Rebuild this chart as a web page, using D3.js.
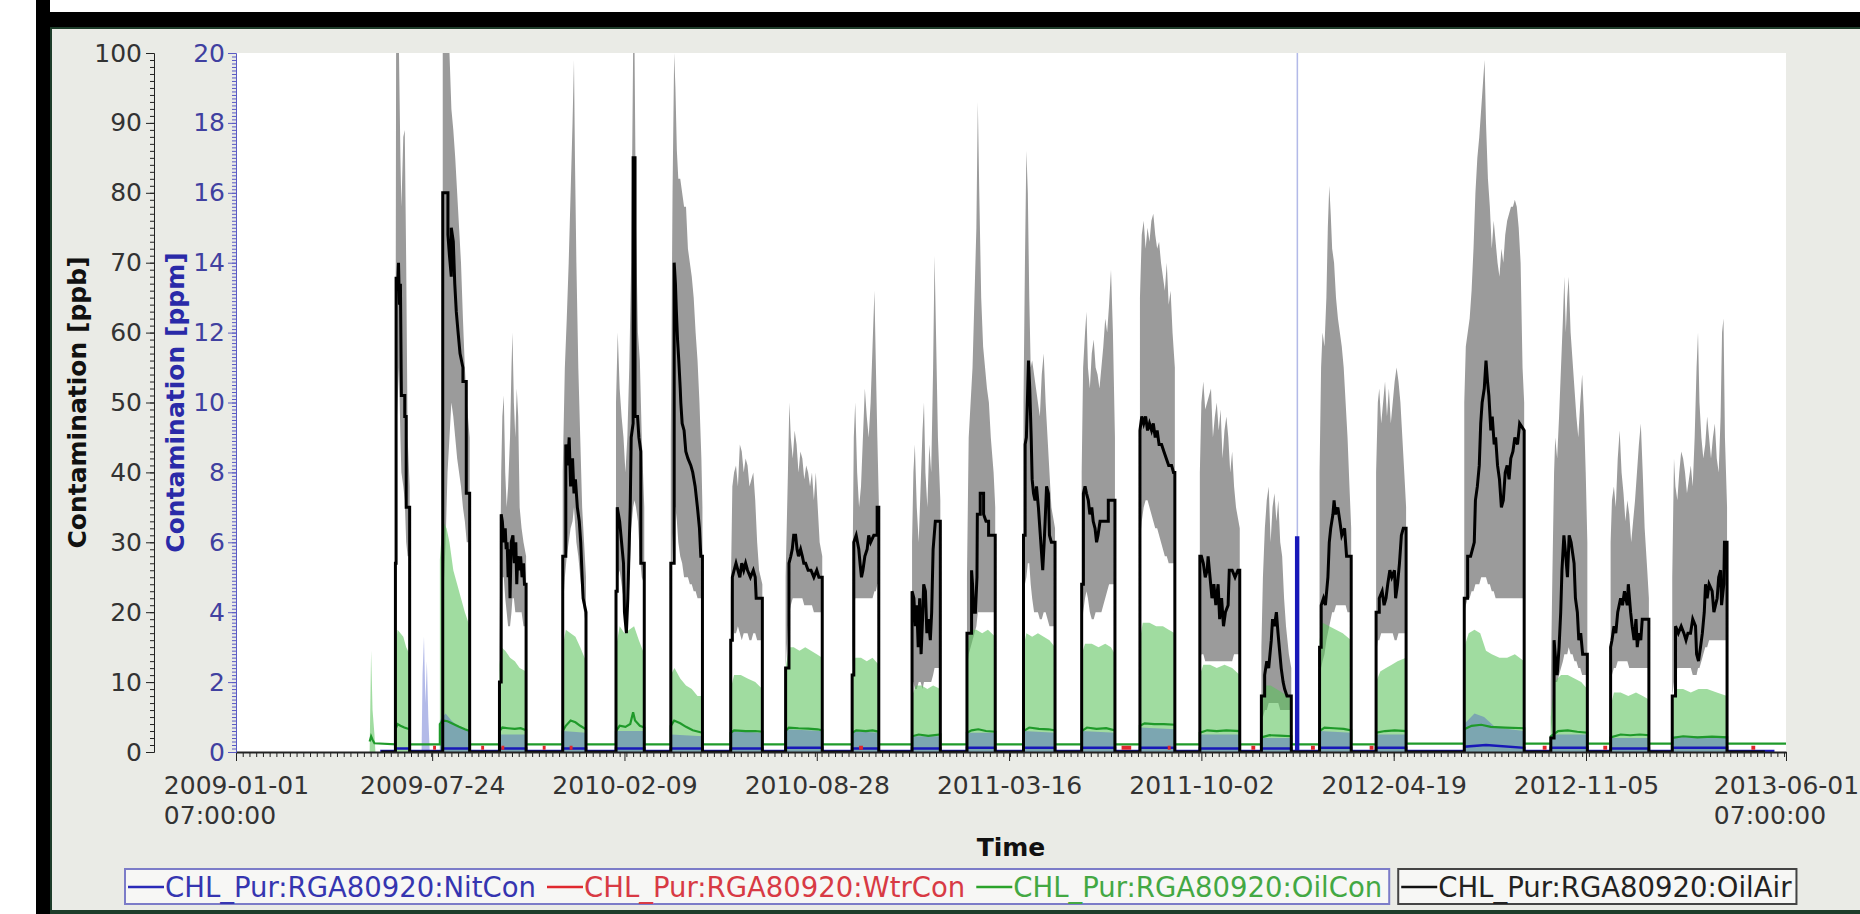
<!DOCTYPE html>
<html>
<head>
<meta charset="utf-8">
<script src="https://cdn.jsdelivr.net/npm/d3@7"></script>
<style>
  body { margin: 0; background: #fff; }
  text { font-family: "DejaVu Sans", sans-serif; }
</style>
</head>
<body>
<svg id="chart" width="1860" height="914"></svg>
<script>
// time is kept as days after the first tick (2009-01-01 07:00 UTC)
const startTime = Date.UTC(2009, 0, 1, 7);
const endTime = Date.UTC(2013, 5, 1, 7);

const xTickLabels = ['2009-01-01', '2009-07-24', '2010-02-09', '2010-08-28', '2011-03-16',
  '2011-10-02', '2012-04-19', '2012-11-05', '2013-06-01'];
const ppbTicks = [0, 10, 20, 30, 40, 50, 60, 70, 80, 90, 100];
const ppmTicks = [0, 2, 4, 6, 8, 10, 12, 14, 16, 18, 20];
const seriesNames = ['CHL_Pur:RGA80920:NitCon', 'CHL_Pur:RGA80920:WtrCon',
  'CHL_Pur:RGA80920:OilCon', 'CHL_Pur:RGA80920:OilAir'];

// OilAir average [day, ppb]
const oilAir = [
  [151,0],[165.8,0],[165.8,27],[166.5,27],[166.5,68],[168,66],[169,70],[170,64],[171,67],[172,51],[175.5,51],[175.5,48],[177,48],[177,35],[180.6,35],[180.6,0],
  [215,0],[215,80],[220.4,80],[220.4,74],[222,71],[223.9,68],[223.9,75],[226,73],[227.5,67],[229.1,63],[231,60],[233,57],[236,55],[236,53],[239.5,53],[239.5,37],[243,37],[243,0],
  [274,0],[274,10],[275.8,10],[275.8,34],[277,33],[278.5,30],[280,32],[281,29],[282,30],[283,25],[284,29],[285,22],[286.2,30],[288,31],[289.5,27],[291,30],[292,24],[293,28],[294.8,26],[296,28],[297.5,25],[299,27],[300,24],[301.7,24],[301.7,0],
  [339.8,0],[339.8,28],[343,28],[343,44],[345,41],[346.5,45],[348,38],[350,42],[351.5,37],[353,39],[355,35],[357,33],[358.5,30],[360,25],[361,22],[364,20],[364,0],
  [395.2,0],[395.2,23],[396.5,23],[396.5,35],[399,33],[401,30],[403,27],[404,20],[406,17],[407.5,22],[409,30],[410,35],[411,45],[413,47],[413,85],[415,85],[415,48],[417.6,48],[419,45],[421,43],[421,27],[424.6,27],[424.6,0],
  [452.2,0],[452.2,27],[455.7,27],[455.7,70],[457,67],[458,63],[459.2,59],[460.5,56],[462,52],[462.6,50],[464,47],[466,46],[467.8,43],[470,42],[473,41],[475,40],[477.5,38],[479.9,35],[482,32],[483.4,28],[485.1,28],[485.1,0],
  [514.5,0],[514.5,16],[516.2,16],[516.2,25],[518,26],[520,27],[522,26],[524,25],[526,27],[528,26],[530,27],[532,26],[535,25],[538,26],[540,25],[541,22],[547.4,22],[547.4,0],
  [571.6,0],[571.6,12],[575.1,12],[575.1,27],[577,28],[578.5,29],[580,31],[582,31],[583.5,29],[585,28],[587.2,29],[589,28],[590.5,27],[592.4,27],[595,26],[598,26],[601,25],[604,26],[606.2,25],[609.7,25],[609.7,0],
  [640.8,0],[640.8,11],[642.5,11],[642.5,30],[645,31],[647.7,29],[649,27],[650.5,25],[652,26],[654,28],[656.4,29],[658,31],[660,30],[663.3,31],[666.8,31],[666.8,35],[668.5,35],[668.5,0],
  [703.1,0],[703.1,23],[705,22],[706.5,18],[708,21],[709.5,15],[711,22],[712.5,14],[714,19],[715.2,24],[717,23],[718.5,17],[720,19],[722.1,16],[723.5,20],[725,29],[727.3,33],[730,33],[732.5,33],[732.5,0],
  [760.2,0],[760.2,17],[765,17],[765,26],[766,24],[767.1,20],[769,20],[770.6,25],[771,34],[774,34],[774,37],[777.5,37],[777.5,34],[780,33],[782.7,33],[782.7,31],[789.6,31],[789.6,0],
  [819,0],[819,31],[820.7,31],[820.7,44],[822,45],[823,50],[824.2,56],[825.5,52],[827,45],[828,39],[829.4,37],[831,36],[832.5,38],[834.5,35],[836,32],[837.5,29],[839,26],[840.5,30],[841.5,33],[843,38],[844.9,37],[846,31],[848,30],[851.8,30],[851.8,0],
  [879.5,0],[879.5,24],[881.3,24],[881.3,37],[883,38],[884.5,37],[886.4,36],[888,34],[890,35],[891.5,33],[893.4,32],[895,30],[896.5,31],[898.6,33],[904,33],[907.2,33],[907.2,36],[914.1,36],[914.1,0],
  [940.1,0],[940.1,46],[942,48],[944,47],[946,48],[948,46],[950,47],[952.2,46],[954,47],[956,45],[958,46],[960,44],[962.6,44],[965,43],[967.5,42],[970,41],[973,41],[975,40],[976.4,40],[976.4,0],
  [1002.4,0],[1002.4,28],[1004,28],[1006,27],[1008,25],[1010,26],[1011,28],[1013,25],[1015,22],[1017,24],[1019,21],[1021.4,24],[1023,19],[1025,22],[1027,18],[1029,20],[1031.8,21],[1033,26],[1036,26],[1039,25],[1042,26],[1043.9,26],[1043.9,0],
  [1066.4,0],[1066.4,8],[1069.8,8],[1069.8,11],[1072,13],[1074,12],[1076.7,16],[1078,19],[1080,18],[1082,20],[1083.7,17],[1085,15],[1087,12],[1089,10],[1090.6,9],[1093,8],[1097.5,8],[1097.5,0],
  [1126.9,0],[1126.9,15],[1128.6,15],[1128.6,21],[1131,22],[1133,21],[1135.6,25],[1137,30],[1138.5,32],[1140.8,34],[1142,36],[1143.5,34],[1145.9,35],[1148,33],[1150,31],[1152.9,32],[1155,28],[1159.8,28],[1159.8,0],
  [1185.7,0],[1185.7,20],[1189,20],[1189,22],[1192,23],[1194,21],[1196,22],[1197.8,24],[1200,26],[1202,25],[1204.8,26],[1206,22],[1208,24],[1210,27],[1212,31],[1214,32],[1216.9,32],[1216.9,0],
  [1277.4,0],[1277.4,22],[1280.9,22],[1280.9,28],[1284,28],[1287.8,30],[1289,36],[1291,38],[1293,41],[1294.5,47],[1296,50],[1298.2,52],[1300,56],[1301.6,53],[1303,51],[1305,46],[1306.5,48],[1308.5,44],[1310,45],[1312,41],[1314,39],[1316,35],[1318,36],[1320,40],[1322,41],[1324,39],[1325.8,42],[1328,43],[1330,45],[1332.8,44],[1335,47],[1339.7,46],[1339.7,0],
  [1367.4,0],[1367.4,2],[1370.8,2],[1370.8,16],[1372.5,13],[1374,11],[1376,15],[1377.7,20],[1379,26],[1381,31],[1383,28],[1384.7,25],[1386.5,31],[1388.5,30],[1391.6,27],[1393,22],[1395,20],[1396.5,16],[1398.5,17],[1400.5,14],[1405.4,14],[1405.4,0],
  [1429.6,0],[1429.6,15],[1431,16],[1433.1,18],[1435,17],[1437,20],[1440,22],[1442,21],[1444,23],[1446.9,21],[1448,24],[1450.4,20],[1452,18],[1454,16],[1456,19],[1457.3,15],[1459,17],[1461,16],[1462.5,19],[1469.4,19],[1469.4,0],
  [1493.7,0],[1493.7,8],[1497.1,8],[1497.1,18],[1500,17],[1503,18],[1505.8,17],[1508,16],[1510,17],[1512.7,17],[1515,19],[1517.9,18],[1519,14],[1521,13],[1523.1,15],[1525,17],[1527,20],[1528.3,24],[1530,22],[1532,24],[1535.2,23],[1537,20],[1540.4,22],[1542,25],[1544,26],[1545,21],[1547.3,24],[1548,30],[1550.7,30],[1550.7,0],
  [1590,0]
];

// OilAir min / max envelope [day, low, high] in ppb
const oilAirBand = [
  [165.8,0,0],[165.8,27,40],[166.5,45,100],[168,50,100],[169.5,55,100],[171,45,85],[172,40,78],[174,38,88],[175.5,36,89],[177,30,70],[178.5,28,45],[180.6,28,38],[180.6,0,0],
  [215,0,0],[215,20,100],[218,30,100],[220,40,100],[222,45,100],[224,50,92],[226,48,89],[228,45,85],[230,42,80],[232,40,75],[234,38,70],[236,35,62],[238,33,55],[240,30,50],[243,30,45],[243,0,0],
  [274,0,0],[274,8,15],[275.8,20,40],[277,25,48],[278.5,25,51],[280,22,40],[281.5,20,35],[283,18,38],[285,18,45],[286.5,20,55],[287.5,22,60],[289,22,50],[290.5,20,45],[292,20,52],[293.5,20,48],[295,20,35],[297,20,32],[299,18,30],[301.7,18,28],[301.7,0,0],
  [339.8,0,0],[339.8,20,40],[342,25,55],[344,28,62],[346,30,70],[348,32,80],[350,33,90],[351.5,35,99],[352.5,33,85],[354,30,70],[356,28,55],[358,25,45],[360,22,35],[362,20,30],[364,18,25],[364,0,0],
  [395.2,0,0],[395.2,20,50],[397,25,60],[399,26,52],[401,24,48],[403,22,45],[405,18,40],[407,18,45],[409,24,55],[411,32,70],[413,35,100],[414.5,36,100],[416,35,75],[418,33,60],[420,28,56],[422,25,45],[424.6,24,35],[424.6,0,0],
  [452.2,0,0],[452.2,22,45],[454,30,80],[455.7,35,100],[457,35,95],[458.5,33,86],[460,30,82],[462,28,82],[464,27,80],[466,25,78],[468,25,78],[470,25,72],[472,24,70],[474,24,68],[476,23,65],[478,23,60],[480,22,56],[482,22,50],[484,22,42],[485.1,22,35],[485.1,0,0],
  [514.5,0,0],[514.5,14,22],[516.2,18,38],[518,17,40],[520,17,41],[522,18,38],[524,17,44],[526,16,43],[528,17,40],[530,17,42],[532,17,41],[534,16,38],[536,16,39],[538,17,40],[540,17,36],[542,16,30],[544,16,26],[547.4,16,24],[547.4,0,0],
  [571.6,0,0],[571.6,12,25],[574,18,40],[575.5,20,50],[577,21,45],[579,22,42],[581,22,46],[583,22,44],[585,22,40],[587,22,43],[589,22,42],[591,21,39],[593,21,41],[595,21,40],[597,21,38],[599,21,40],[601,20,36],[603,20,40],[605,20,35],[607,20,30],[609.7,20,28],[609.7,0,0],
  [640.8,0,0],[640.8,10,20],[642.5,20,45],[644,22,50],[646,22,40],[648,22,35],[650,22,38],[652,22,45],[654,22,52],[656,22,48],[658,22,45],[660,22,50],[662,22,58],[664,23,66],[665.5,23,55],[667,24,45],[668.5,24,36],[668.5,0,0],
  [703.1,0,0],[703.1,10,30],[704.5,10,40],[706,9,44],[708,9,35],[710,10,30],[712,10,38],[714,9,46],[715.5,10,50],[717,10,40],[719,10,35],[721,10,44],[723,10,40],[725,11,55],[726.5,12,71],[728,12,60],[730,12,45],[732.5,12,36],[732.5,0,0],
  [760.2,0,0],[760.2,12,25],[762,14,45],[764,15,50],[766,16,55],[768,17,65],[770,18,75],[771.5,20,93],[773,20,80],[775,20,65],[777,20,58],[779,20,55],[781,20,52],[783,20,50],[785,20,45],[787.9,20,40],[789.6,20,35],[789.6,0,0],
  [819,0,0],[819,20,50],[820.5,24,70],[822,25,86],[823.5,27,80],[825,27,65],[826.5,24,55],[828,22,56],[830,20,54],[832,20,52],[834,20,50],[836,19,48],[838,19,54],[840,20,57],[842,20,50],[844,19,45],[846,18,40],[848,18,35],[851.8,18,32],[851.8,0,0],
  [879.5,0,0],[879.5,16,40],[881,20,55],[883,22,60],[884.5,23,63],[886,22,55],[888,20,52],[890,19,57],[892,19,59],[894,20,55],[896,20,54],[898,20,52],[900,20,55],[902,21,58],[904,22,62],[906,23,60],[908,24,64],[910,24,69],[912,24,60],[914.1,24,45],[914.1,0,0],
  [940.1,0,0],[940.1,30,65],[942,33,74],[944,35,76],[946,36,72],[948,36,75],[950,35,73],[952,34,76],[954,33,77],[956,32,74],[958,32,72],[960,31,73],[962,30,70],[964,29,68],[966,28,66],[968,28,70],[970,27,64],[972,27,66],[974,27,60],[976.4,27,55],[976.4,0,0],
  [1002.4,0,0],[1002.4,13,40],[1004,14,50],[1006,14,53],[1008,13,49],[1010,13,50],[1012,13,51],[1014,13,52],[1016,13,45],[1018,13,48],[1020,13,50],[1022,13,46],[1024,13,49],[1026,13,42],[1028,13,46],[1030,13,48],[1032,13,45],[1034,13,40],[1036,13,43],[1038,14,38],[1040,14,35],[1043.9,14,32],[1043.9,0,0],
  [1066.4,0,0],[1066.4,5,15],[1068,5,25],[1070,6,32],[1072,6,36],[1074,7,38],[1076,7,30],[1078,7,35],[1080,7,37],[1082,7,33],[1084,7,36],[1086,6,30],[1088,6,28],[1090,6,22],[1092,6,18],[1095,6,14],[1097.5,6,12],[1097.5,0,0],
  [1126.9,0,0],[1126.9,10,40],[1128.5,12,55],[1130,13,60],[1132,14,58],[1134,16,65],[1135.5,17,75],[1137,18,81],[1138.5,19,77],[1140,20,72],[1142,20,70],[1144,21,65],[1146,21,62],[1148,21,60],[1150,21,58],[1152,21,55],[1154,21,50],[1156,20,45],[1158,20,38],[1159.8,20,32],[1159.8,0,0],
  [1185.7,0,0],[1185.7,14,40],[1187.5,16,50],[1189,16,52],[1191,17,47],[1193,17,50],[1195,17,53],[1197,17,48],[1199,17,52],[1201,17,47],[1203,17,50],[1205,16,53],[1207,16,55],[1209,17,53],[1211,17,50],[1213,17,45],[1215,17,40],[1216.9,17,35],[1216.9,0,0],
  [1277.4,0,0],[1277.4,20,50],[1279,21,58],[1281,22,60],[1283,22,62],[1285,23,66],[1287,23,72],[1289,24,80],[1291,24,85],[1293,24,88],[1295,25,92],[1297,25,96],[1298.5,25,99],[1300,25,90],[1302,24,82],[1304,24,78],[1306,23,72],[1308,23,76],[1310,22,73],[1312,22,70],[1314,22,68],[1316,22,72],[1318,22,70],[1320,22,74],[1322,22,76],[1324,22,77],[1326,22,78],[1328,22,78],[1330,22,79],[1332,22,78],[1334,22,75],[1336,22,70],[1338,22,55],[1339.7,22,50],[1339.7,0,0],
  [1367.4,0,0],[1367.4,2,10],[1369,5,25],[1370.8,10,40],[1372,10,45],[1374,10,42],[1376,11,48],[1378,12,55],[1380,13,62],[1381.5,14,68],[1383,14,60],[1384.5,14,65],[1386,15,68],[1388,14,60],[1390,14,56],[1392,13,52],[1394,13,48],[1396,12,45],[1398,12,50],[1400,11,54],[1402,11,48],[1403.7,11,40],[1405.4,11,30],[1405.4,0,0],
  [1429.6,0,0],[1429.6,10,30],[1431,11,36],[1433,12,38],[1435,12,35],[1437,13,42],[1439,13,46],[1441,13,40],[1443,13,37],[1445,13,33],[1447,13,36],[1449,12,34],[1451,12,30],[1453,12,33],[1455,12,36],[1457,12,40],[1459,12,44],[1461,12,47],[1463,12,40],[1465,12,32],[1467.7,12,26],[1469.4,12,22],[1469.4,0,0],
  [1493.7,0,0],[1493.7,8,25],[1495.5,10,42],[1497,11,38],[1499,12,36],[1501,12,40],[1503,12,43],[1505,12,42],[1507,12,40],[1509,12,37],[1511,12,39],[1513,12,41],[1515,11,38],[1517,11,45],[1519,11,55],[1520.5,12,60],[1522,12,50],[1524,13,45],[1526,14,42],[1528,15,44],[1530,15,48],[1532,16,45],[1534,16,42],[1536,16,45],[1538,16,47],[1540,16,42],[1542,16,40],[1544,16,48],[1545.5,16,60],[1547,16,62],[1548.5,16,45],[1550.7,16,35],[1550.7,0,0]
];

// OilCon average [day, ppm]
const oilCon = [
  [139,0.3],[140.5,0.45],[142,0.35],[144,0.25],[165.8,0.22],
  [165.8,0.65],[168,0.8],[171,0.75],[175,0.7],[180.6,0.65],[180.6,0.22],
  [212,0.22],[212,0.8],[215,0.9],[220,0.88],[226,0.8],[232,0.72],[238,0.65],[243,0.6],[243,0.22],
  [274,0.22],[274,0.6],[277,0.7],[283,0.68],[290,0.66],[296,0.68],[301.7,0.62],[301.7,0.22],
  [339.8,0.22],[339.8,0.6],[343,0.75],[348,0.9],[353,0.85],[358,0.75],[364,0.65],[364,0.22],
  [395.2,0.22],[395.2,0.6],[399,0.75],[405,0.72],[410,0.8],[413,1.14],[415,0.9],[420,0.75],[424.6,0.7],[424.6,0.22],
  [452.2,0.22],[452.2,0.75],[455.7,0.9],[462,0.82],[468,0.72],[475,0.62],[485.1,0.55],[485.1,0.22],
  [514.5,0.22],[514.5,0.55],[518,0.62],[530,0.6],[540,0.6],[547.4,0.58],[547.4,0.22],
  [571.6,0.22],[571.6,0.6],[575,0.7],[585,0.68],[595,0.67],[605,0.65],[609.7,0.62],[609.7,0.22],
  [640.8,0.22],[640.8,0.55],[645,0.62],[655,0.6],[662,0.62],[668.5,0.58],[668.5,0.22],
  [703.1,0.22],[703.1,0.45],[710,0.5],[720,0.46],[732.5,0.5],[732.5,0.22],
  [760.2,0.22],[760.2,0.55],[765,0.62],[772,0.65],[780,0.6],[789.6,0.58],[789.6,0.22],
  [819,0.22],[819,0.6],[825,0.7],[835,0.66],[845,0.65],[851.8,0.62],[851.8,0.22],
  [879.5,0.22],[879.5,0.6],[885,0.7],[895,0.66],[905,0.68],[914.1,0.62],[914.1,0.22],
  [940.1,0.22],[940.1,0.75],[945,0.82],[955,0.8],[965,0.8],[976.4,0.78],[976.4,0.22],
  [1002.4,0.22],[1002.4,0.55],[1010,0.62],[1020,0.6],[1030,0.62],[1043.9,0.6],[1043.9,0.22],
  [1066.4,0.22],[1066.4,0.42],[1075,0.48],[1085,0.47],[1097.5,0.45],[1097.5,0.22],
  [1126.9,0.22],[1126.9,0.6],[1132,0.7],[1142,0.68],[1152,0.66],[1159.8,0.62],[1159.8,0.22],
  [1185.7,0.22],[1185.7,0.55],[1195,0.6],[1205,0.62],[1216.9,0.6],[1216.9,0.24],
  [1277.4,0.24],[1277.4,0.65],[1285,0.75],[1295,0.78],[1305,0.72],[1320,0.7],[1339.7,0.68],[1339.7,0.24],
  [1367.4,0.24],[1367.4,0.45],[1375,0.6],[1385,0.62],[1395,0.58],[1405.4,0.55],[1405.4,0.24],
  [1429.6,0.24],[1429.6,0.42],[1440,0.5],[1450,0.48],[1460,0.5],[1469.4,0.48],[1469.4,0.24],
  [1493.7,0.24],[1493.7,0.4],[1505,0.45],[1520,0.42],[1535,0.44],[1550.7,0.42],[1550.7,0.24],
  [1612,0.24]
];

// OilCon max envelope [day, ppm]
const oilConBand = [
  [139,0],[140.5,2.9],[142,1.2],[144,0.5],[145,0],
  [165.8,0],[165.8,3.0],[168,3.5],[171,3.4],[174,3.3],[177,3.0],[180.6,2.8],[180.6,0],
  [212,0],[212,5.5],[215,6.6],[219,6.4],[222,6.0],[226,5.2],[230,4.8],[234,4.4],[238,4.0],[243,3.6],[243,0],
  [274,0],[274,2.5],[276,3.0],[280,2.9],[285,2.7],[290,2.6],[295,2.4],[301.7,2.3],[301.7,0],
  [339.8,0],[339.8,3.0],[343,3.5],[348,3.4],[353,3.3],[358,3.0],[364,2.6],[364,0],
  [395.2,0],[395.2,3.0],[399,3.6],[404,3.4],[409,3.5],[414,3.6],[419,3.2],[424.6,2.8],[424.6,0],
  [452.2,0],[452.2,2.2],[456,2.4],[462,2.1],[468,1.9],[474,1.8],[480,1.6],[485.1,1.6],[485.1,0],
  [514.5,0],[514.5,1.8],[518,2.2],[525,2.2],[532,2.1],[540,2.0],[547.4,1.8],[547.4,0],
  [571.6,0],[571.6,2.4],[575,3.0],[580,3.0],[586,2.9],[592,3.0],[598,2.9],[604,2.8],[609.7,2.7],[609.7,0],
  [640.8,0],[640.8,2.2],[644,2.7],[650,2.7],[656,2.6],[662,2.7],[668.5,2.5],[668.5,0],
  [703.1,0],[703.1,1.6],[707,1.9],[713,1.9],[719,1.8],[725,1.9],[732.5,1.8],[732.5,0],
  [760.2,0],[760.2,3.0],[764,3.5],[770,3.5],[776,3.4],[782,3.5],[789.6,3.3],[789.6,0],
  [819,0],[819,3.0],[822,3.4],[828,3.3],[834,3.4],[840,3.3],[846,3.2],[851.8,3.0],[851.8,0],
  [879.5,0],[879.5,2.8],[883,3.1],[890,3.1],[897,3.0],[904,3.1],[910,3.0],[914.1,2.8],[914.1,0],
  [940.1,0],[940.1,3.2],[943,3.7],[950,3.7],[957,3.6],[964,3.6],[970,3.5],[976.4,3.4],[976.4,0],
  [1002.4,0],[1002.4,2.2],[1006,2.5],[1013,2.5],[1020,2.4],[1028,2.5],[1036,2.4],[1043.9,2.2],[1043.9,0],
  [1066.4,0],[1066.4,1.5],[1070,1.9],[1076,1.9],[1082,1.8],[1088,1.7],[1097.5,1.5],[1097.5,0],
  [1126.9,0],[1126.9,3.2],[1130,3.7],[1137,3.6],[1144,3.5],[1151,3.4],[1159.8,3.2],[1159.8,0],
  [1185.7,0],[1185.7,2.0],[1190,2.3],[1196,2.4],[1202,2.5],[1208,2.6],[1216.9,2.7],[1216.9,0],
  [1277.4,0],[1277.4,3.0],[1282,3.4],[1288,3.5],[1294,3.4],[1300,2.9],[1306,2.8],[1314,2.7],[1322,2.7],[1330,2.8],[1339.7,2.6],[1339.7,0],
  [1367.4,0],[1367.4,1.0],[1371,2.0],[1378,2.2],[1385,2.2],[1392,2.1],[1399,2.0],[1405.4,1.8],[1405.4,0],
  [1429.6,0],[1429.6,1.3],[1433,1.7],[1440,1.7],[1448,1.6],[1456,1.7],[1463,1.6],[1469.4,1.5],[1469.4,0],
  [1493.7,0],[1493.7,1.4],[1497,1.8],[1505,1.8],[1513,1.7],[1521,1.8],[1530,1.8],[1540,1.7],[1550.7,1.6],[1550.7,0]
];

// NitCon average [day, ppm]
const nitCon = [
  [150,0.03],[165.8,0.03],[165.8,0.1],[180.6,0.1],[180.6,0.03],
  [215,0.03],[215,0.1],[243,0.1],[243,0.03],[274,0.03],[274,0.1],[301.7,0.1],[301.7,0.03],
  [339.8,0.03],[339.8,0.1],[364,0.1],[364,0.03],[395.2,0.03],[395.2,0.1],[424.6,0.1],[424.6,0.03],
  [452.2,0.03],[452.2,0.1],[485.1,0.1],[485.1,0.03],[514.5,0.03],[514.5,0.1],[547.4,0.1],[547.4,0.03],
  [571.6,0.03],[571.6,0.12],[609.7,0.12],[609.7,0.03],[640.8,0.03],[640.8,0.1],[668.5,0.1],[668.5,0.03],
  [703.1,0.03],[703.1,0.1],[732.5,0.1],[732.5,0.03],[760.2,0.03],[760.2,0.12],[789.6,0.12],[789.6,0.03],
  [819,0.03],[819,0.12],[851.8,0.12],[851.8,0.03],[879.5,0.03],[879.5,0.12],[914.1,0.12],[914.1,0.03],
  [940.1,0.03],[940.1,0.12],[976.4,0.12],[976.4,0.03],[1002.4,0.03],[1002.4,0.1],[1043.9,0.1],[1043.9,0.03],
  [1066.4,0.03],[1066.4,0.1],[1097.5,0.1],[1097.5,0.03],
  [1102.6,0.03],[1102.6,6.14],[1104.6,6.14],[1104.6,0.03],
  [1126.9,0.03],[1126.9,0.12],[1159.8,0.12],[1159.8,0.03],[1185.7,0.03],[1185.7,0.12],[1216.9,0.12],[1216.9,0.03],
  [1277.4,0.03],[1277.4,0.15],[1300,0.2],[1339.7,0.12],[1339.7,0.03],[1367.4,0.03],[1367.4,0.12],[1405.4,0.12],[1405.4,0.03],
  [1429.6,0.03],[1429.6,0.1],[1469.4,0.1],[1469.4,0.03],[1493.7,0.03],[1493.7,0.12],[1550.7,0.12],[1550.7,0.03],
  [1600,0.03]
];

// NitCon max envelope [day, ppm]
const nitConBand = [
  [193,0],[194,2.2],[195.5,3.3],[197,1.4],[198.5,2.6],[200,1.0],[201.5,0],
  [212,0],[212,0.9],[218,1.1],[224,0.9],[232,0.7],[243,0.6],[243,0],
  [274,0],[274,0.5],[301.7,0.5],[301.7,0],
  [339.8,0],[339.8,0.6],[364,0.55],[364,0],
  [395.2,0],[395.2,0.6],[424.6,0.6],[424.6,0],
  [452.2,0],[452.2,0.5],[485.1,0.45],[485.1,0],
  [514.5,0],[514.5,0.6],[547.4,0.55],[547.4,0],
  [571.6,0],[571.6,0.65],[609.7,0.6],[609.7,0],
  [640.8,0],[640.8,0.6],[668.5,0.55],[668.5,0],
  [703.1,0],[703.1,0.45],[732.5,0.45],[732.5,0],
  [760.2,0],[760.2,0.55],[789.6,0.55],[789.6,0],
  [819,0],[819,0.6],[851.8,0.55],[851.8,0],
  [879.5,0],[879.5,0.6],[914.1,0.55],[914.1,0],
  [940.1,0],[940.1,0.7],[976.4,0.65],[976.4,0],
  [1002.4,0],[1002.4,0.5],[1043.9,0.5],[1043.9,0],
  [1066.4,0],[1066.4,0.4],[1097.5,0.4],[1097.5,0],
  [1103,0],[1103,25],[1104.6,25],[1104.6,0],
  [1126.9,0],[1126.9,0.6],[1159.8,0.55],[1159.8,0],
  [1185.7,0],[1185.7,0.5],[1216.9,0.5],[1216.9,0],
  [1277.4,0],[1277.4,0.8],[1288,1.1],[1298,1.0],[1310,0.7],[1339.7,0.6],[1339.7,0],
  [1367.4,0],[1367.4,0.5],[1405.4,0.5],[1405.4,0],
  [1429.6,0],[1429.6,0.4],[1469.4,0.4],[1469.4,0],
  [1493.7,0],[1493.7,0.45],[1550.7,0.45],[1550.7,0]
];

// WtrCon, only the short stretches where it shows; null breaks the line
const wtrCon = [
  [205,0.12],[208,0.12],null,[255,0.12],[258,0.12],null,[276,0.12],[279,0.12],null,
  [319,0.12],[322,0.12],null,[347,0.12],[350,0.12],null,[648,0.12],[652,0.12],null,
  [921,0.12],[931,0.12],null,[969,0.12],[972,0.12],null,[1056,0.12],[1060,0.12],null,
  [1118,0.12],[1122,0.12],null,[1179,0.12],[1183,0.12],null,[1359,0.12],[1363,0.12],null,
  [1422,0.12],[1426,0.12],null,[1576,0.12],[1580,0.12]
];

const svg = d3.select('#chart');
const plot = { left: 236, right: 1786, top: 53, bottom: 752 };
const day = d => new Date(startTime + d * 864e5);

const x = d3.scaleUtc().domain([new Date(startTime), new Date(endTime)]).range([plot.left, plot.right]);
const yPpb = d3.scaleLinear().domain([0, 100]).range([plot.bottom, plot.top]);
const yPpm = d3.scaleLinear().domain([0, 20]).range([plot.bottom, plot.top]);

// frame of the window
svg.append('rect').attr('width', 1860).attr('height', 914).attr('fill', '#fff');
svg.append('rect').attr('x', 50).attr('y', 27).attr('width', 1810).attr('height', 884).attr('fill', '#eaebe6');
svg.append('rect').attr('x', 36).attr('y', 0).attr('width', 14).attr('height', 914).attr('fill', '#000');
svg.append('rect').attr('x', 36).attr('y', 12).attr('width', 1824).attr('height', 15).attr('fill', '#000');
svg.append('rect').attr('x', 50).attr('y', 27).attr('width', 1810).attr('height', 2).attr('fill', '#1d3d2a');
svg.append('rect').attr('x', 50).attr('y', 910).attr('width', 1810).attr('height', 4).attr('fill', '#1d3d2a');
svg.append('rect').attr('x', 50).attr('y', 27).attr('width', 2).attr('height', 887).attr('fill', '#1d3d2a');

svg.append('rect')
  .attr('x', plot.left).attr('y', plot.top)
  .attr('width', plot.right - plot.left).attr('height', plot.bottom - plot.top)
  .attr('fill', '#fff');

svg.append('clipPath').attr('id', 'clip')
  .append('rect')
  .attr('x', plot.left).attr('y', plot.top)
  .attr('width', plot.right - plot.left).attr('height', plot.bottom - plot.top);

const g = svg.append('g').attr('clip-path', 'url(#clip)');

// envelopes
g.append('path').datum(oilAirBand)
  .attr('d', d3.area().x(d => x(day(d[0]))).y0(d => yPpb(d[1])).y1(d => yPpb(d[2])))
  .attr('fill', '#9b9b9b');
g.append('path').datum(oilConBand)
  .attr('d', d3.area().x(d => x(day(d[0]))).y0(yPpm(0)).y1(d => yPpm(d[1])))
  .attr('fill', '#5cc25c').attr('fill-opacity', 0.58);
g.append('path').datum(nitConBand)
  .attr('d', d3.area().x(d => x(day(d[0]))).y0(yPpm(0)).y1(d => yPpm(d[1])))
  .attr('fill', '#4a5ac8').attr('fill-opacity', 0.42);

// lines
const lineOf = yS => d3.line().defined(d => d !== null).x(d => x(day(d[0]))).y(d => yS(d[1]));
g.append('path').datum(oilCon).attr('d', lineOf(yPpm))
  .attr('fill', 'none').attr('stroke', '#1f9a2a').attr('stroke-width', 2.2);
g.append('path').datum(nitCon).attr('d', lineOf(yPpm))
  .attr('fill', 'none').attr('stroke', '#1818b8').attr('stroke-width', 2.5);
g.append('path').datum(wtrCon).attr('d', lineOf(yPpm))
  .attr('fill', 'none').attr('stroke', '#e0282e').attr('stroke-width', 4);
g.append('path').datum(oilAir).attr('d', lineOf(yPpb))
  .attr('fill', 'none').attr('stroke', '#000').attr('stroke-width', 3);

// axes
const fontFamily = '"DejaVu Sans", sans-serif';
function styleAxis(sel, color, textColor) {
  sel.attr('font-family', fontFamily).attr('font-size', 25);
  sel.selectAll('path, line').attr('stroke', color);
  sel.selectAll('text').attr('fill', textColor);
}

// x axis
const xTickDates = xTickLabels.map(s => new Date(s + 'T07:00:00Z'));
const weeks = d3.range(0, 1612, 7).map(day);
svg.append('g').attr('transform', `translate(0,${plot.bottom})`)
  .call(d3.axisBottom(x).tickValues(weeks).tickSize(5).tickFormat('').tickSizeOuter(0))
  .call(s => styleAxis(s, '#222', '#333'));
const gx = svg.append('g').attr('transform', `translate(0,${plot.bottom})`)
  .call(d3.axisBottom(x).tickValues(xTickDates).tickSize(9).tickSizeOuter(0)
    .tickFormat(d3.utcFormat('%Y-%m-%d')))
  .call(s => styleAxis(s, '#222', '#333'));
gx.select('.domain').attr('stroke-width', 2);
gx.selectAll('.tick text').attr('y', 24);
// first and last labels carry the time on a second, left-aligned line
gx.selectAll('.tick text').filter((d, i) => i === 0 || i === xTickLabels.length - 1)
  .each(function () {
    const w = this.getComputedTextLength();
    d3.select(this).attr('text-anchor', 'start').attr('x', -w / 2)
      .append('tspan').attr('x', -w / 2).attr('dy', '1.2em').text('07:00:00');
  });

// ppb axis
const ppbX = 154;
svg.append('g').attr('transform', `translate(${ppbX},0)`)
  .call(d3.axisLeft(yPpb).tickValues(d3.range(0, 100.5, 1)).tickSize(4).tickFormat('').tickSizeOuter(0))
  .call(s => styleAxis(s, '#222', '#333'));
svg.append('g').attr('transform', `translate(${ppbX},0)`)
  .call(d3.axisLeft(yPpb).tickValues(ppbTicks).tickSize(8).tickPadding(4).tickSizeOuter(0))
  .call(s => styleAxis(s, '#222', '#333'));

// ppm axis
svg.append('g').attr('transform', `translate(${plot.left},0)`)
  .call(d3.axisLeft(yPpm).tickValues(d3.range(0, 200.5, 1).map(v => v / 10)).tickSize(4).tickFormat('').tickSizeOuter(0))
  .call(s => styleAxis(s, '#5a5ac4', '#4040a0'));
svg.append('g').attr('transform', `translate(${plot.left},0)`)
  .call(d3.axisLeft(yPpm).tickValues(ppmTicks).tickSize(8).tickPadding(3).tickSizeOuter(0))
  .call(s => styleAxis(s, '#5a5ac4', '#4040a0'));

// titles
svg.append('text')
  .attr('transform', `translate(77,${(plot.top + plot.bottom) / 2}) rotate(-90)`)
  .attr('text-anchor', 'middle').attr('dy', '0.35em')
  .attr('font-size', 25).attr('font-weight', 'bold').attr('fill', '#111')
  .text('Contamination [ppb]');
svg.append('text')
  .attr('transform', `translate(175,${(plot.top + plot.bottom) / 2}) rotate(-90)`)
  .attr('text-anchor', 'middle').attr('dy', '0.35em')
  .attr('font-size', 25).attr('font-weight', 'bold').attr('fill', '#2a2aa8')
  .text('Contamination [ppm]');
svg.append('text')
  .attr('x', (plot.left + plot.right) / 2).attr('y', 856)
  .attr('text-anchor', 'middle')
  .attr('font-size', 25).attr('font-weight', 'bold').attr('fill', '#111')
  .text('Time');

// legend: two boxes, one per y axis
const legendColors = ['#2a2ab8', '#e0282e', '#2aa32a', '#111'];
const legendTextColors = ['#3535b0', '#d83a44', '#43a843', '#222'];
const legendY = 887;
const legend = svg.append('g').attr('font-size', 27.5);
let lx = 128;
const boxStarts = [];
const boxEnds = [];
seriesNames.forEach((name, i) => {
  if (i === 0 || i === 3) {
    if (i === 3) { boxEnds.push(lx - 4); lx += 8; }
    boxStarts.push(lx - 3);
  }
  legend.append('line')
    .attr('x1', lx).attr('x2', lx + 36).attr('y1', legendY).attr('y2', legendY)
    .attr('stroke', legendColors[i]).attr('stroke-width', 2.5);
  const t = legend.append('text')
    .attr('x', lx + 37).attr('y', legendY + 10)
    .attr('fill', legendTextColors[i]).text(name);
  lx += 37 + t.node().getComputedTextLength() + 11;
});
boxEnds.push(lx - 6);
const boxStroke = ['#7c7cc8', '#444'];
boxStarts.forEach((bx, i) => {
  legend.insert('rect', ':first-child')
    .attr('x', bx).attr('y', 869).attr('width', boxEnds[i] - bx).attr('height', 35)
    .attr('fill', '#f7f7f5').attr('stroke', boxStroke[i]).attr('stroke-width', 2);
});
</script>
</body>
</html>
